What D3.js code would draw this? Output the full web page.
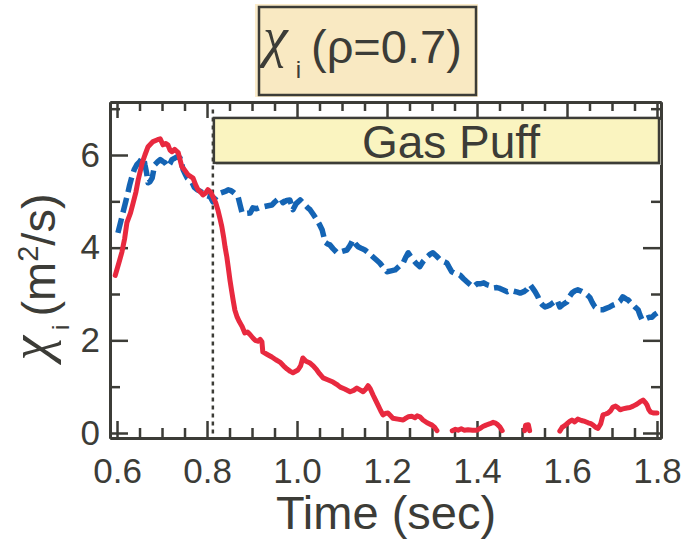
<!DOCTYPE html>
<html>
<head>
<meta charset="utf-8">
<script src="https://cdn.jsdelivr.net/npm/d3@7"></script>
<style>
  body { margin: 0; background: #fff; }
  svg { display: block; font-family: "Liberation Sans", Arial, sans-serif; }
</style>
</head>
<body>
<div id="chart"></div>
<script>
// time (sec) and chi_i (m^2/s); null = gap in the trace
var redTime = [0.596,0.605,0.611,0.617,0.622,0.630,0.636,0.642,0.647,0.656,0.662,0.669,0.680,0.690,0.696,0.702,0.708,0.713,0.718,0.722,0.728,0.736,0.744,0.750,0.758,0.769,0.775,0.780,0.786,0.791,0.797,0.802,0.808,0.813,0.819,0.824,0.829,0.833,0.837,0.840,0.844,0.847,0.851,0.855,0.858,0.862,0.867,0.872,0.878,0.884,0.890,0.896,0.902,0.907,0.913,0.918,0.922,0.924,0.933,0.944,0.953,0.962,0.970,0.978,0.985,0.991,1.002,1.008,1.013,1.020,1.029,1.036,1.044,1.050,1.058,1.068,1.080,1.088,1.096,1.106,1.118,1.126,1.133,1.140,1.147,1.153,1.158,1.163,1.169,1.174,1.180,1.186,1.191,1.196,1.202,1.208,1.213,1.224,1.236,1.242,1.247,1.255,1.262,1.267,1.273,1.280,1.289,1.300,1.306,1.311,1.328,
  1.345,1.352,1.358,1.365,1.372,1.380,1.390,1.400,1.407,1.413,1.420,1.429,1.436,1.440,1.446,1.451,1.456,1.480,
  1.506,1.508,1.514,1.517,1.550,
  1.584,1.589,1.595,1.600,1.606,1.611,1.617,1.624,1.632,1.640,1.647,1.653,1.658,1.664,1.669,1.675,1.680,1.686,1.691,1.697,1.702,1.708,1.713,1.718,1.724,1.733,1.740,1.747,1.755,1.762,1.769,1.774,1.778,1.782,1.786,1.793,1.800];
var redChi = [3.40,3.70,3.91,4.20,4.54,4.75,4.97,5.20,5.46,5.83,6.00,6.18,6.29,6.33,6.35,6.22,6.25,6.22,6.10,6.07,6.12,6.05,5.75,5.68,5.57,5.50,5.35,5.25,5.20,5.14,5.18,5.25,5.20,5.10,4.98,4.82,4.62,4.45,4.22,4.02,3.80,3.59,3.30,3.05,2.87,2.65,2.50,2.40,2.30,2.16,2.18,2.12,2.05,2.00,1.98,2.02,1.97,1.75,1.70,1.64,1.58,1.53,1.45,1.38,1.33,1.30,1.36,1.45,1.62,1.55,1.51,1.45,1.36,1.28,1.19,1.15,1.10,1.05,0.99,0.95,0.89,0.92,0.97,0.93,0.89,0.95,1.02,0.95,0.82,0.72,0.60,0.48,0.39,0.42,0.43,0.37,0.32,0.30,0.28,0.32,0.35,0.36,0.33,0.37,0.35,0.28,0.22,0.17,0.12,0.05,null,
  0.05,0.08,0.06,0.09,0.06,0.07,0.06,0.06,0.10,0.14,0.17,0.20,0.23,0.22,0.18,0.13,0.05,null,
  0.05,0.17,0.18,0.05,null,
  0.04,0.12,0.16,0.20,0.25,0.28,0.24,0.30,0.27,0.25,0.22,0.20,0.17,0.12,0.10,0.20,0.39,0.41,0.43,0.48,0.56,0.58,0.55,0.50,0.52,0.54,0.55,0.58,0.62,0.67,0.71,0.66,0.60,0.50,0.45,0.43,0.43];

var blueTime = [0.602,0.608,0.613,0.619,0.624,0.628,0.633,0.638,0.644,0.650,0.656,0.660,0.662,0.666,0.669,0.673,0.678,0.681,0.684,0.690,0.696,0.702,0.707,0.713,0.718,0.722,0.728,0.733,0.740,0.744,0.747,0.752,0.756,0.762,0.767,0.772,0.778,0.785,0.791,0.800,0.807,0.813,0.818,0.824,0.830,0.836,0.842,0.847,0.853,0.858,0.864,0.869,0.874,0.878,0.887,0.896,0.902,0.910,0.918,0.924,0.933,0.944,0.950,0.956,0.962,0.969,0.977,0.984,0.991,0.998,1.007,1.012,1.018,1.024,1.029,1.036,1.044,1.050,1.056,1.060,1.062,1.068,1.073,1.080,1.089,1.100,1.111,1.118,1.124,1.130,1.136,1.144,1.151,1.160,1.169,1.176,1.184,1.192,1.200,1.209,1.218,1.227,1.236,1.242,1.247,1.252,1.258,1.265,1.273,1.280,1.289,1.296,1.302,1.310,1.318,1.326,1.333,1.338,1.344,1.352,1.362,1.370,1.378,1.385,1.391,1.400,1.407,1.415,1.422,1.429,1.436,1.444,1.451,1.460,1.467,1.474,1.482,1.490,1.496,1.504,1.511,1.518,1.524,1.529,1.535,1.540,1.546,1.551,1.557,1.562,1.570,1.578,1.584,1.592,1.600,1.606,1.611,1.618,1.624,1.632,1.640,1.646,1.651,1.656,1.662,1.668,1.673,1.680,1.687,1.695,1.702,1.710,1.718,1.724,1.730,1.736,1.742,1.747,1.752,1.758,1.762,1.767,1.773,1.778,1.784,1.789,1.794,1.800];
var blueChi = [4.32,4.55,4.75,4.98,5.18,5.35,5.53,5.68,5.79,5.85,5.94,5.90,5.79,5.60,5.40,5.42,5.50,5.65,5.79,5.85,5.90,5.86,5.83,5.75,5.82,5.90,5.93,5.96,5.94,5.80,5.68,5.58,5.50,5.45,5.40,5.30,5.25,5.22,5.18,5.12,5.10,4.99,5.07,5.14,5.18,5.20,5.22,5.25,5.23,5.20,5.15,5.10,4.90,4.75,4.74,4.75,4.86,4.84,4.87,4.88,4.90,4.92,4.98,5.03,5.08,4.97,5.02,5.03,4.82,4.95,5.03,4.98,4.92,4.86,4.82,4.72,4.60,4.50,4.38,4.22,4.12,4.08,4.06,3.98,3.89,3.92,3.95,4.05,4.17,4.08,4.02,3.98,3.95,3.88,3.80,3.74,3.67,3.57,3.48,3.50,3.52,3.60,3.67,3.80,3.89,3.82,3.74,3.66,3.59,3.70,3.80,3.86,3.89,3.82,3.74,3.70,3.67,3.58,3.48,3.44,3.41,3.33,3.26,3.20,3.15,3.22,3.22,3.24,3.20,3.18,3.13,3.14,3.12,3.08,3.05,3.08,3.06,3.04,3.02,3.05,3.10,3.20,3.12,3.05,2.95,2.83,2.76,2.72,2.74,2.76,2.82,2.87,2.72,2.78,2.83,2.95,3.02,3.07,3.09,3.06,3.02,2.97,2.92,2.82,2.72,2.68,2.66,2.66,2.69,2.72,2.76,2.79,2.85,2.94,2.90,2.87,2.81,2.76,2.71,2.66,2.55,2.44,2.46,2.48,2.50,2.50,2.55,2.59];

var xMajor = [0.6, 0.8, 1.0, 1.2, 1.4, 1.6, 1.8];
var xMinor = [0.65, 0.7, 0.75, 0.85, 0.9, 0.95, 1.05, 1.1, 1.15, 1.25, 1.3, 1.35, 1.45, 1.5, 1.55, 1.65, 1.7, 1.75];
var yMajor = [0, 2, 4, 6];
var yMinor = [1, 3, 5, 7];
var gasPuffStart = 0.813;
var gasPuffLabel = "Gas Puff";

var ink = "#3c3c37";
var chiFont = "Liberation Serif, serif";

function draw() {
  var width = 688, height = 544;
  var left = 110, right = 661, top = 102, bottom = 438;

  var svg = d3.select("#chart").append("svg")
    .attr("width", width)
    .attr("height", height);

  var x = d3.scaleLinear().domain([0.5844, 1.8089]).range([left, right]);
  var y = d3.scaleLinear().domain([-0.108, 7.144]).range([bottom, top]);

  // title box
  svg.append("rect").attr("x", 255).attr("y", 4).attr("width", 223).attr("height", 93)
    .attr("fill", "#fbeccb");
  svg.append("rect").attr("x", 259).attr("y", 7).attr("width", 217).attr("height", 88)
    .attr("fill", "#f9e9c2").attr("stroke", ink).attr("stroke-width", 2.5);
  var title = svg.append("text").attr("x", 263).attr("y", 56)
    .attr("fill", ink).attr("font-size", 47);
  title.append("tspan").attr("font-family", chiFont).attr("font-style", "italic")
    .attr("font-size", 56).text("χ");
  title.append("tspan").attr("font-size", 24).attr("dx", 8).attr("dy", 22).text("i");
  title.append("tspan").attr("dx", 10).attr("dy", -15).text("(ρ=0.7)");

  // axes
  function styleAxis(g) {
    g.select(".domain").attr("stroke", ink).attr("stroke-width", 3);
    g.selectAll(".tick line").attr("stroke", ink).attr("stroke-width", 2.5);
    g.selectAll(".tick text").attr("fill", ink).attr("font-size", 35)
      .attr("font-family", "Liberation Sans, Arial, sans-serif");
  }

  svg.append("g").attr("transform", "translate(0," + bottom + ")")
    .call(d3.axisBottom(x).tickValues(xMajor).tickSize(-17).tickSizeOuter(0).tickPadding(20)
      .tickFormat(d3.format(".1f")))
    .call(styleAxis);
  svg.append("g").attr("transform", "translate(0," + bottom + ")")
    .call(d3.axisBottom(x).tickValues(xMinor).tickSize(-10).tickSizeOuter(0).tickFormat(""))
    .call(styleAxis);
  svg.append("g").attr("transform", "translate(0," + top + ")")
    .call(d3.axisTop(x).tickValues(xMajor).tickSize(-16).tickSizeOuter(0).tickFormat(""))
    .call(styleAxis);
  svg.append("g").attr("transform", "translate(0," + top + ")")
    .call(d3.axisTop(x).tickValues(xMinor).tickSize(-9).tickSizeOuter(0).tickFormat(""))
    .call(styleAxis);

  svg.append("g").attr("transform", "translate(" + left + ",0)")
    .call(d3.axisLeft(y).tickValues(yMajor).tickSize(-18).tickSizeOuter(0).tickPadding(10))
    .call(styleAxis);
  svg.append("g").attr("transform", "translate(" + left + ",0)")
    .call(d3.axisLeft(y).tickValues(yMinor).tickSize(-10).tickSizeOuter(0).tickFormat(""))
    .call(styleAxis);
  svg.append("g").attr("transform", "translate(" + right + ",0)")
    .call(d3.axisRight(y).tickValues(yMajor).tickSize(-18).tickSizeOuter(0).tickFormat(""))
    .call(styleAxis);
  svg.append("g").attr("transform", "translate(" + right + ",0)")
    .call(d3.axisRight(y).tickValues(yMinor).tickSize(-10).tickSizeOuter(0).tickFormat(""))
    .call(styleAxis);

  // axis titles
  svg.append("text").attr("x", 386).attr("y", 529).attr("text-anchor", "middle")
    .attr("fill", ink).attr("font-size", 47).text("Time (sec)");

  var yl = svg.append("text").attr("transform", "translate(55,277) rotate(-90)")
    .attr("text-anchor", "middle").attr("fill", ink).attr("font-size", 47);
  yl.append("tspan").attr("font-family", chiFont).attr("font-style", "italic")
    .attr("font-size", 56).attr("dy", -6).text("χ");
  yl.append("tspan").attr("font-size", 24).attr("dx", 6).attr("dy", 20).text("i");
  yl.append("tspan").attr("dx", 8).attr("dy", -14).text("(m");
  yl.append("tspan").attr("font-size", 29).attr("dy", -17).text("2");
  yl.append("tspan").attr("dy", 17).text("/s)");

  // dotted marker for gas puff start
  svg.append("line")
    .attr("x1", x(gasPuffStart)).attr("x2", x(gasPuffStart))
    .attr("y1", y(6.98)).attr("y2", bottom)
    .attr("stroke", ink).attr("stroke-width", 2.5).attr("stroke-dasharray", "4,4");

  // traces
  var line = d3.line()
    .defined(function(d) { return d[1] !== null; })
    .x(function(d) { return x(d[0]); })
    .y(function(d) { return y(d[1]); });

  var redData = redTime.map(function(t, i) { return [t, redChi[i]]; });
  var blueData = blueTime.map(function(t, i) { return [t, blueChi[i]]; });

  svg.append("path").datum(blueData).attr("d", line)
    .attr("fill", "none").attr("stroke", "#1464b4").attr("stroke-width", 5.5)
    .attr("stroke-dasharray", "15,6").attr("stroke-linejoin", "round");
  svg.append("path").datum(redData).attr("d", line)
    .attr("fill", "none").attr("stroke", "#e8293f").attr("stroke-width", 5)
    .attr("stroke-linejoin", "round").attr("stroke-linecap", "round");

  // gas puff box
  var bx = x(gasPuffStart) + 1, by = y(6.8), bw = right - 2 - bx, bh = y(5.83) - y(6.8);
  svg.append("rect").attr("x", bx + 2).attr("y", by + 2).attr("width", bw).attr("height", bh)
    .attr("fill", "#c8c8c0");
  svg.append("rect").attr("x", bx).attr("y", by).attr("width", bw).attr("height", bh)
    .attr("fill", "#faf4c0").attr("stroke", ink).attr("stroke-width", 2.5);
  svg.append("text").attr("x", 451).attr("y", 158).attr("text-anchor", "middle")
    .attr("fill", ink).attr("font-size", 46).text(gasPuffLabel);
}

window.onload = draw;
</script>
</body>
</html>
